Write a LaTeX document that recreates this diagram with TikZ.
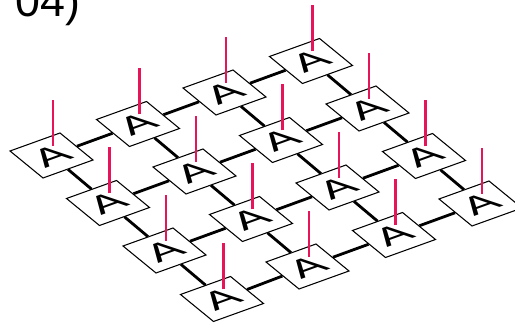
\documentclass[tikz,border=0pt]{standalone}
\usepackage{fontspec}
\setsansfont{Liberation Sans}
\newfontfamily\tilefont[FakeStretch=1.15]{Liberation Sans}
\usetikzlibrary{backgrounds}
\definecolor{stemred}{RGB}{232,20,90}

\begin{document}
\begin{tikzpicture}[
    tilebox/.style={draw, fill=white, line width=0.6pt, minimum size=1cm, inner sep=0pt,
      font=\tilefont\fontsize{22}{22}\selectfont, cm={1.0,0.36,-0.66,0.54,(0,0)}},
    link/.style={line width=1.6pt},
    stem/.style={draw=stemred, line width=1.5pt}]
    \useasboundingbox (0,0) rectangle (10.3,6.5);
    \clip (0,0) rectangle (10.3,6.5);

    % Label
    \node[anchor=base east, inner sep=0pt, font=\sffamily\fontsize{25.5}{25.5}\selectfont] (label) at (1.62,6.16) {, 04)};

    % Tiles
    \node[tilebox] (11) at (1.03,3.39) {A};
    \node[tilebox] (12) at (2.76,4.02) {A};
    \node[tilebox] (13) at (4.49,4.65) {A};
    \node[tilebox] (14) at (6.22,5.28) {A};
    \node[tilebox] (21) at (2.16,2.44) {A};
    \node[tilebox] (22) at (3.89,3.07) {A};
    \node[tilebox] (23) at (5.62,3.70) {A};
    \node[tilebox] (24) at (7.35,4.33) {A};
    \node[tilebox] (31) at (3.29,1.49) {A};
    \node[tilebox] (32) at (5.02,2.12) {A};
    \node[tilebox] (33) at (6.75,2.75) {A};
    \node[tilebox] (34) at (8.48,3.38) {A};
    \node[tilebox] (41) at (4.44,0.52) {A};
    \node[tilebox] (42) at (6.15,1.17) {A};
    \node[tilebox] (43) at (7.88,1.80) {A};
    \node[tilebox] (44) at (9.61,2.43) {A};

    % Links
    \begin{scope}[on background layer]
        \draw[link] (11) -- (12);
        \draw[link] (12) -- (13);
        \draw[link] (13) -- (14);
        \draw[link] (21) -- (22);
        \draw[link] (22) -- (23);
        \draw[link] (23) -- (24);
        \draw[link] (31) -- (32);
        \draw[link] (32) -- (33);
        \draw[link] (33) -- (34);
        \draw[link] (41) -- (42);
        \draw[link] (42) -- (43);
        \draw[link] (43) -- (44);
        \draw[link] (11) -- (21);
        \draw[link] (21) -- (31);
        \draw[link] (31) -- (41);
        \draw[link] (12) -- (22);
        \draw[link] (22) -- (32);
        \draw[link] (32) -- (42);
        \draw[link] (13) -- (23);
        \draw[link] (23) -- (33);
        \draw[link] (33) -- (43);
        \draw[link] (14) -- (24);
        \draw[link] (24) -- (34);
        \draw[link] (34) -- (44);
    \end{scope}

    % Stems
    \draw[stem] ([shift={(0.03,0.19)}]11.center) -- ++(0,0.92);
    \draw[stem] ([shift={(0.03,0.19)}]12.center) -- ++(0,0.92);
    \draw[stem] ([shift={(0.03,0.19)}]13.center) -- ++(0,0.92);
    \draw[stem] ([shift={(0.03,0.19)}]14.center) -- ++(0,0.92);
    \draw[stem] ([shift={(0.03,0.19)}]21.center) -- ++(0,0.92);
    \draw[stem] ([shift={(0.03,0.19)}]22.center) -- ++(0,0.92);
    \draw[stem] ([shift={(0.03,0.19)}]23.center) -- ++(0,0.92);
    \draw[stem] ([shift={(0.03,0.19)}]24.center) -- ++(0,0.92);
    \draw[stem] ([shift={(0.03,0.19)}]31.center) -- ++(0,0.92);
    \draw[stem] ([shift={(0.03,0.19)}]32.center) -- ++(0,0.92);
    \draw[stem] ([shift={(0.03,0.19)}]33.center) -- ++(0,0.92);
    \draw[stem] ([shift={(0.03,0.19)}]34.center) -- ++(0,0.92);
    \draw[stem] ([shift={(0.03,0.19)}]41.center) -- ++(0,0.92);
    \draw[stem] ([shift={(0.03,0.19)}]42.center) -- ++(0,0.92);
    \draw[stem] ([shift={(0.03,0.19)}]43.center) -- ++(0,0.92);
    \draw[stem] ([shift={(0.03,0.19)}]44.center) -- ++(0,0.92);
\end{tikzpicture}
\end{document}
